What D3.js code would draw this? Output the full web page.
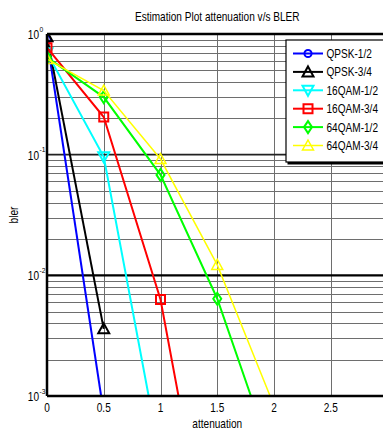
<!DOCTYPE html>
<html>
<head>
<meta charset="utf-8">
<script src="https://cdn.jsdelivr.net/npm/d3@7"></script>
<style>
  html, body { margin: 0; padding: 0; background: #fff; overflow: hidden; }
  svg { display: block; }
  text { font-family: "Liberation Sans", Arial, sans-serif; }
</style>
</head>
<body>
<div id="chart"></div>
<script>
// attenuation values (x axis)
const attenuation = [0, 0.5, 1, 1.5, 2];
const xTicks = [0, 0.5, 1, 1.5, 2, 2.5, 3];
const xTickLabels = ['0', '0.5', '1', '1.5', '2', '2.5'];
const yDecades = [-3, -2, -1, 0];

const seriesNames = ['QPSK-1/2', 'QPSK-3/4', '16QAM-1/2', '16QAM-3/4', '64QAM-1/2', '64QAM-3/4'];
const seriesColors = ['#0000ff', '#000000', '#00ffff', '#ff0000', '#00ff00', '#ffff00'];
const seriesMarkers = ['circle', 'triUp', 'triDown', 'square', 'diamond', 'triUp'];

// bler values
const qpsk12 = [0.9, 0.00072];
const qpsk34 = [0.95, 0.0036];
const qam16_12 = [0.7, 0.096, 0.0003];
const qam16_34 = [0.77, 0.205, 0.0063, 0.000019];
const qam64_12 = [0.64, 0.30, 0.068, 0.0064, 0.00028];
const qam64_34 = [0.62, 0.34, 0.092, 0.0122, 0.00083];
const seriesValues = [qpsk12, qpsk34, qam16_12, qam16_34, qam64_12, qam64_34];

const width = 383, height = 430;
const margin = {left: 47, top: 34, right: 387.5, bottom: 396};
const narrow = 0.84;

const container = d3.select('#chart');
const svg = container.append('svg')
    .attr('width', width)
    .attr('height', height);

const x = d3.scaleLinear().domain([0, 3]).range([margin.left, margin.right]);
const y = d3.scaleLog().domain([1e-3, 1]).range([margin.bottom, margin.top]);

// condensed text, like the original figure font
function label(parent, tx, ty, txt, size, anchor, rotate) {
    return parent.append('text')
        .attr('transform', `translate(${tx},${ty})${rotate ? ' rotate(-90)' : ''} scale(${narrow},1)`)
        .attr('text-anchor', anchor || 'start')
        .style('font-size', size + 'px')
        .text(txt);
}

svg.append('defs').append('clipPath').attr('id', 'plotClip')
    .append('rect')
    .attr('x', margin.left).attr('y', margin.top)
    .attr('width', margin.right - margin.left)
    .attr('height', margin.bottom - margin.top);

// grid
const grid = svg.append('g');
const minorVals = [];
yDecades.slice(0, 3).forEach(d => {
    for (let k = 2; k <= 9; k++) minorVals.push(k * Math.pow(10, d));
});
grid.selectAll('line.minor').data(minorVals).enter().append('line')
    .attr('x1', margin.left).attr('x2', margin.right)
    .attr('y1', d => Math.round(y(d)) + 0.5).attr('y2', d => Math.round(y(d)) + 0.5)
    .attr('stroke', '#6e6e6e').attr('stroke-width', 1);

grid.selectAll('line.vgrid').data(xTicks.slice(1)).enter().append('line')
    .attr('x1', d => Math.round(x(d)) + 0.5).attr('x2', d => Math.round(x(d)) + 0.5)
    .attr('y1', margin.top).attr('y2', margin.bottom)
    .attr('stroke', '#6e6e6e').attr('stroke-width', 1);

grid.selectAll('line.decade').data([1e-1, 1e-2]).enter().append('line')
    .attr('x1', margin.left).attr('x2', margin.right)
    .attr('y1', d => y(d)).attr('y2', d => y(d))
    .attr('stroke', d => d === 1e-2 ? '#000' : '#222')
    .attr('stroke-width', d => d === 1e-2 ? 2.2 : 1.6);

// markers
function markerPath(type) {
    switch (type) {
        case 'circle': return d3.symbol(d3.symbolCircle, 40)();
        case 'triUp': return 'M0,-5.5L5.5,4.5L-5.5,4.5Z';
        case 'triDown': return 'M0,5.5L5.5,-4.5L-5.5,-4.5Z';
        case 'square': return 'M-4.5,-4.5H4.5V4.5H-4.5Z';
        case 'diamond': return 'M0,-6L4,0L0,6L-4,0Z';
    }
}

const line = d3.line().x(d => x(d[0])).y(d => y(d[1]));
const plot = svg.append('g').attr('clip-path', 'url(#plotClip)');

seriesValues.forEach((vals, i) => {
    const pts = vals.map((v, j) => [attenuation[j], v]);
    const g = plot.append('g');
    g.append('path')
        .datum(pts)
        .attr('d', line)
        .attr('fill', 'none')
        .attr('stroke', seriesColors[i])
        .attr('stroke-width', i === 5 ? 1.5 : 2);
    g.selectAll('path.mk').data(pts.filter(p => p[1] >= 1e-3)).enter().append('path')
        .attr('d', markerPath(seriesMarkers[i]))
        .attr('transform', d => `translate(${x(d[0])},${y(d[1])})`)
        .attr('fill', 'none')
        .attr('stroke', seriesColors[i])
        .attr('stroke-width', i === 5 ? 1.5 : 2);
});

// axes frame
svg.append('line')
    .attr('x1', margin.left).attr('x2', margin.left)
    .attr('y1', margin.top).attr('y2', margin.bottom)
    .attr('stroke', '#000').attr('stroke-width', 2.5);
svg.append('line')
    .attr('x1', margin.left).attr('x2', margin.right)
    .attr('y1', margin.bottom).attr('y2', margin.bottom)
    .attr('stroke', '#000').attr('stroke-width', 2.5);
svg.append('line')
    .attr('x1', margin.left).attr('x2', margin.right)
    .attr('y1', margin.top).attr('y2', margin.top)
    .attr('stroke', '#000').attr('stroke-width', 2.5);

// x tick labels
xTickLabels.forEach((t, i) => {
    label(svg, x(xTicks[i]), 412, t, 12, 'middle');
});

// y tick labels
yDecades.forEach(d => {
    const py = y(Math.pow(10, d));
    label(svg, 39, py + 5, '10', 12, 'end');
    label(svg, 39.5, py - 2.5, d, 8, 'start');
});

// titles
label(svg, (margin.left + margin.right) / 2, 21, 'Estimation Plot attenuation v/s BLER', 12, 'middle');
label(svg, (margin.left + margin.right) / 2, 428, 'attenuation', 12, 'middle');
label(svg, 18, (margin.top + margin.bottom) / 2, 'bler', 12, 'middle', true);

// legend
const legend = svg.append('g').attr('transform', 'translate(286, 40)');
legend.append('rect')
    .attr('x', 1.5).attr('y', 1.5)
    .attr('width', 110).attr('height', 123)
    .attr('fill', '#000');
legend.append('rect')
    .attr('x', 0).attr('y', 0)
    .attr('width', 110).attr('height', 122)
    .attr('fill', '#fff')
    .attr('stroke', '#000').attr('stroke-width', 1.2);

seriesNames.forEach((name, i) => {
    const row = legend.append('g').attr('transform', `translate(0, ${13.5 + i * 18.4})`);
    row.append('line')
        .attr('x1', 7).attr('x2', 37)
        .attr('stroke', seriesColors[i])
        .attr('stroke-width', i === 5 ? 1.5 : 2);
    row.append('path')
        .attr('d', markerPath(seriesMarkers[i]))
        .attr('transform', 'translate(22,0)')
        .attr('fill', 'none')
        .attr('stroke', seriesColors[i])
        .attr('stroke-width', i === 5 ? 1.5 : 2);
    label(row, 40.5, 4.5, name, 12, 'start');
});
</script>
</body>
</html>
